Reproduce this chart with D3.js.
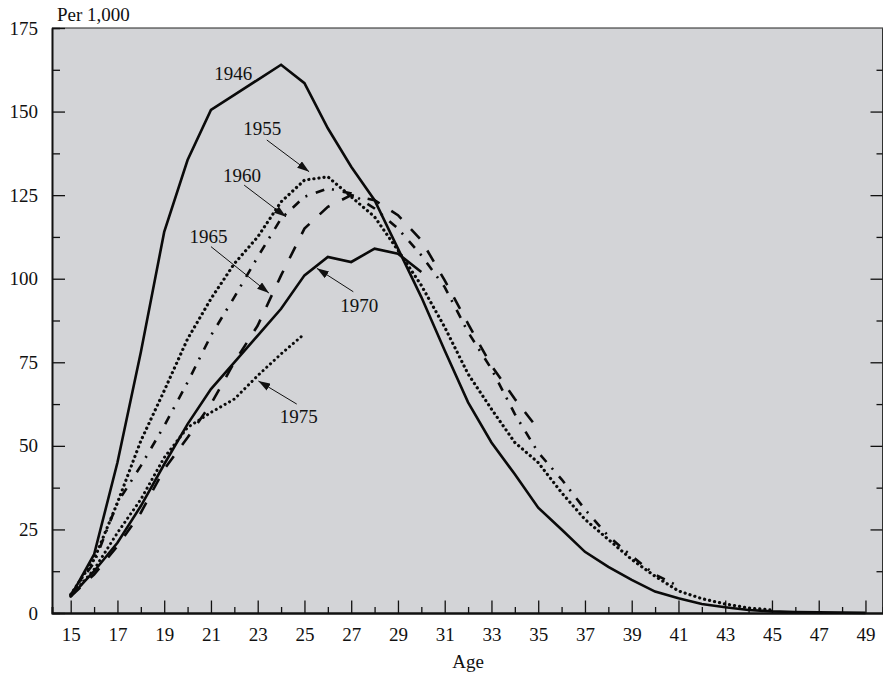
<!DOCTYPE html>
<html>
<head>
<meta charset="utf-8">
<script src="https://cdn.jsdelivr.net/npm/d3@7"></script>
<style>
  html, body { margin: 0; padding: 0; background: #ffffff; }
  svg { display: block; }
  text { font-family: "Liberation Serif", "Times New Roman", serif; fill: #111; }
</style>
</head>
<body>
<svg id="chart" width="883" height="681"></svg>
<script>
// ---------- data ----------
const ages = [15,16,17,18,19,20,21,22,23,24,25,26,27,28,29,30,31,32,33,34,35,36,37,38,39,40,41,42,43,44,45,46,47,48,49];

const rate1946 = [5,17.5,45,78,114,135.5,150.5,155,159.5,164,158.5,145,133.5,123.5,109,94.5,78.5,63,51,41.5,31.5,25,18.3,13.8,9.9,6.4,4.4,2.7,1.7,0.9,0.5,0.3,0.2,0.1,0.05];
const rate1955 = [5.5,16,33,51.5,66.5,82,94,104.5,112.5,123,129.5,130.5,124.5,118.5,108.5,98,85.5,71.5,61,51,45,36,28,22,16,11,6.6,4.3,2.7,1.5,0.9];
const rate1960 = [5.5,15,33,44,56,69,83,94.5,106.5,118,124.5,127,125.5,121,115,107,97.5,84,73,59.5,48,40,31,23,17,11.5,8];
const rate1965 = [5,11.5,20,30,43,52.5,62.5,75,86,101,115,121.5,125,123.5,119,111.5,99.5,86.5,74,64,55];
const rate1970 = [5,12.5,21,32,44.5,56.5,67,75,83,91,101,106.5,105,109,107.5,102];
const rate1975 = [5,13,24,34,46.5,55.5,60,64,71,77.5,83.5];

const yearLabels = ["1946","1955","1960","1965","1970","1975"];
// annotation anchors in data units (age, rate): text, arrow start, arrow end
const labelText   = [[21.95,159.4],[23.19,143.0],[22.33,128.9],[20.9,110.7],[27.34,90.0],[24.76,56.9]];
const arrowFrom   = [null,[23.39,141.5],[22.42,128.0],[21.0,109.6],[27.09,96.1],[24.67,62.5]];
const arrowTo     = [null,[25.2,132.0],[24.21,118.5],[23.48,95.7],[25.53,103.1],[23.03,69.4]];

const xMajorTicks = [15,17,19,21,23,25,27,29,31,33,35,37,39,41,43,45,47,49];
const xMinorTicks = [16,18,20,22,24,26,28,30,32,34,36,38,40,42,44,46,48];
const yMajorTicks = [0,25,50,75,100,125,150,175];
const yMinorTicks = [12.5,37.5,62.5,87.5,112.5,137.5,162.5];

// ---------- setup ----------
const svg = d3.select("#chart");
const x = d3.scaleLinear().domain([14.2, 49.75]).range([52, 883]);
const y = d3.scaleLinear().domain([0, 175]).range([613, 28]);

const defs = svg.append("defs");
defs.append("marker")
  .attr("id", "arrow")
  .attr("viewBox", "0 0 12 8")
  .attr("refX", 12).attr("refY", 4)
  .attr("markerWidth", 12).attr("markerHeight", 8)
  .attr("markerUnits", "userSpaceOnUse")
  .attr("orient", "auto")
  .append("path").attr("d", "M0,0 L12,4 L0,8 Z").attr("fill", "#111");

// plot background
svg.append("rect")
  .attr("x", x(14.2)).attr("y", y(175))
  .attr("width", x(49.75) - x(14.2)).attr("height", y(0) - y(175))
  .attr("fill", "#d3d4d7");

// top border
svg.append("line")
  .attr("x1", x(14.2)).attr("x2", x(49.75))
  .attr("y1", y(175)).attr("y2", y(175))
  .attr("stroke", "#222").attr("stroke-width", 1.2);

// ---------- axes ----------
const fontSize = 19;
function styleAxis(g, width) {
  g.select(".domain").attr("stroke", "#111").attr("stroke-width", width);
  g.selectAll(".tick line").attr("stroke", "#111").attr("stroke-width", 1.3);
  g.selectAll("text").attr("font-size", fontSize).attr("font-family", '"Liberation Serif", serif').attr("fill", "#111");
}

// bottom axis
const gxMinor = svg.append("g").attr("transform", `translate(0,${y(0)})`)
  .call(d3.axisBottom(x).tickValues(xMinorTicks).tickSize(-6).tickFormat(""));
styleAxis(gxMinor, 2);
const gx = svg.append("g").attr("transform", `translate(0,${y(0)})`)
  .call(d3.axisBottom(x).tickValues(xMajorTicks).tickSize(-12.5).tickPadding(15).tickFormat(d3.format("d")).tickSizeOuter(0));
styleAxis(gx, 2);

// left axis
const gyMinor = svg.append("g").attr("transform", `translate(${x(14.2)},0)`)
  .call(d3.axisLeft(y).tickValues(yMinorTicks).tickSize(-8).tickFormat(""));
styleAxis(gyMinor, 1.6);
const gy = svg.append("g").attr("transform", `translate(${x(14.2)},0)`)
  .call(d3.axisLeft(y).tickValues(yMajorTicks).tickSize(-13).tickPadding(14).tickFormat(d3.format("d")).tickSizeOuter(0));
styleAxis(gy, 1.6);

// right axis (ticks only)
const gr = svg.append("g").attr("transform", `translate(${x(49.75) - 0.5},0)`)
  .call(d3.axisLeft(y).tickValues(yMajorTicks.filter(v => v > 0 && v < 175)).tickSize(12).tickFormat("").tickSizeOuter(0));
styleAxis(gr, 1.2);
const grm = svg.append("g").attr("transform", `translate(${x(49.75) - 0.5},0)`)
  .call(d3.axisLeft(y).tickValues(yMinorTicks).tickSize(6).tickFormat("").tickSizeOuter(0));
styleAxis(grm, 1.2);

// axis titles
svg.append("text").attr("x", 57).attr("y", 21).attr("font-size", fontSize).text("Per 1,000");
svg.append("text").attr("x", (x(15) + x(49)) / 2).attr("y", 668)
  .attr("text-anchor", "middle").attr("font-size", fontSize).text("Age");

// ---------- lines ----------
const line = d3.line().x(d => x(d[0])).y(d => y(d[1]));
const series = [
  { values: rate1946, dash: null,          width: 2.6, cap: "butt" },
  { values: rate1955, dash: "0.1,5",       width: 3.2, cap: "round" },
  { values: rate1960, dash: "9,8,2,9",     width: 2.6, cap: "butt" },
  { values: rate1965, dash: "13,14",       width: 2.6, cap: "butt" },
  { values: rate1970, dash: null,          width: 2.6, cap: "butt" },
  { values: rate1975, dash: "0.1,5",       width: 3.0, cap: "round" }
];

const plot = svg.append("g");
series.forEach(s => {
  const pts = s.values.map((v, i) => [ages[i], v]);
  plot.append("path")
    .attr("d", line(pts))
    .attr("fill", "none")
    .attr("stroke", "#0a0a0a")
    .attr("stroke-width", s.width)
    .attr("stroke-linejoin", "miter")
    .attr("stroke-linecap", s.cap)
    .attr("stroke-dasharray", s.dash);
});

// ---------- annotations ----------
yearLabels.forEach((t, i) => {
  svg.append("text")
    .attr("x", x(labelText[i][0])).attr("y", y(labelText[i][1]))
    .attr("text-anchor", "middle").attr("font-size", fontSize).text(t);
  if (arrowFrom[i]) {
    svg.append("line")
      .attr("x1", x(arrowFrom[i][0])).attr("y1", y(arrowFrom[i][1]))
      .attr("x2", x(arrowTo[i][0])).attr("y2", y(arrowTo[i][1]))
      .attr("stroke", "#111").attr("stroke-width", 1)
      .attr("marker-end", "url(#arrow)");
  }
});
</script>
</body>
</html>
